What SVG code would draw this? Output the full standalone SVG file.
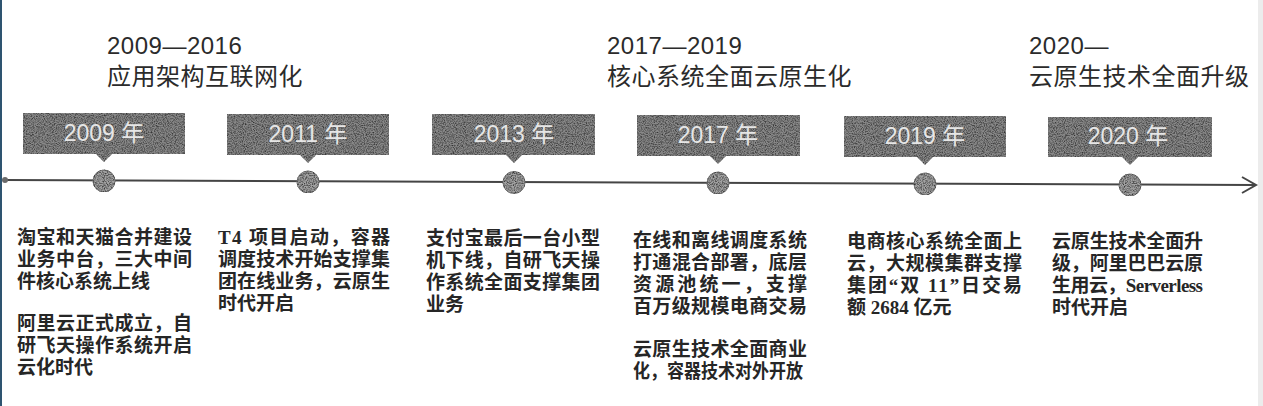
<svg xmlns="http://www.w3.org/2000/svg" width="1263" height="406" viewBox="0 0 1263 406">
<defs>
<filter id="grain" x="0" y="0" width="1" height="1" color-interpolation-filters="sRGB">
<feTurbulence type="fractalNoise" baseFrequency="0.9" numOctaves="2" seed="7" result="t"/>
<feColorMatrix in="t" type="matrix" values="0 0 0 0 0.2  0 0 0 0 0.2  0 0 0 0 0.2  2.2 0 0 0 -0.85" result="dots"/>
<feComposite in="dots" in2="SourceGraphic" operator="in" result="d"/>
<feMerge><feMergeNode in="SourceGraphic"/><feMergeNode in="d"/></feMerge>
</filter>
<style>
.hd{font-family:"Liberation Sans","Noto Sans CJK SC",sans-serif;font-size:24px;fill:#2b2b2b;letter-spacing:0.5px}
.box{fill:#888888}
.yr{font-family:"Liberation Sans","Noto Sans CJK SC",sans-serif;font-size:23px;fill:#e6e6e6;text-anchor:middle}
.dot{fill:#a2a2a2;stroke:#777777;stroke-width:1}
.tx{font-family:"Liberation Serif","Noto Sans CJK SC",serif;font-size:19px;fill:#262626;font-weight:700}
.ln{stroke:#454545;stroke-width:2;fill:none}
</style>
</defs>
<rect x="0" y="0" width="1263" height="406" fill="#ffffff"/>
<rect x="0" y="0" width="2" height="406" fill="#2e5470"/>
<rect x="1258" y="0" width="5" height="406" fill="#ececec"/>

<g id="headers">
<text class="hd" x="107" y="54">2009—2016</text>
<text class="hd" x="107" y="85">应用架构互联网化</text>
<text class="hd" x="607" y="54">2017—2019</text>
<text class="hd" x="607" y="85">核心系统全面云原生化</text>
<text class="hd" x="1029" y="54">2020—</text>
<text class="hd" x="1029" y="85">云原生技术全面升级</text>
</g>

<g id="connectors">
<line class="ln" x1="5" y1="180" x2="1255" y2="185"/>
<polyline class="ln" points="1242,177 1256,185 1242,193"/>
<circle cx="5" cy="180" r="3" fill="#6a6a6a"/>
</g>

<g id="n2009">
<g filter="url(#grain)"><path class="box" d="M23,113 H185 V154 H112 L104,162 L96,154 H23 Z"/><circle class="dot" cx="104" cy="181" r="11"/></g>
<text class="yr" x="104" y="141">2009 年</text>
<text class="tx"><tspan x="17" y="244" textLength="175" lengthAdjust="spacing">淘宝和天猫合并建设</tspan><tspan x="17" y="266" textLength="175" lengthAdjust="spacing">业务中台，三大中间</tspan><tspan x="17" y="288">件核心系统上线</tspan></text>
<text class="tx"><tspan x="17" y="330" textLength="175" lengthAdjust="spacing">阿里云正式成立，自</tspan><tspan x="17" y="352" textLength="175" lengthAdjust="spacing">研飞天操作系统开启</tspan><tspan x="17" y="374">云化时代</tspan></text>
</g>

<g id="n2011">
<g filter="url(#grain)"><path class="box" d="M227,114 H389 V155 H316 L308,163 L300,155 H227 Z"/><circle class="dot" cx="308" cy="182" r="11"/></g>
<text class="yr" x="308" y="142">2011 年</text>
<text class="tx"><tspan x="218" y="244" textLength="172" lengthAdjust="spacing">T4 项目启动，容器</tspan><tspan x="218" y="266" textLength="172" lengthAdjust="spacing">调度技术开始支撑集</tspan><tspan x="218" y="288" textLength="172" lengthAdjust="spacing">团在线业务，云原生</tspan><tspan x="218" y="310">时代开启</tspan></text>
</g>

<g id="n2013">
<g filter="url(#grain)"><path class="box" d="M432,114 H595 V155 H522 L514,163 L506,155 H432 Z"/><circle class="dot" cx="514" cy="182.5" r="11"/></g>
<text class="yr" x="514" y="142">2013 年</text>
<text class="tx"><tspan x="426" y="245" textLength="174" lengthAdjust="spacing">支付宝最后一台小型</tspan><tspan x="426" y="267" textLength="174" lengthAdjust="spacing">机下线，自研飞天操</tspan><tspan x="426" y="289" textLength="174" lengthAdjust="spacing">作系统全面支撑集团</tspan><tspan x="426" y="311">业务</tspan></text>
</g>

<g id="n2017">
<g filter="url(#grain)"><path class="box" d="M637,115 H800 V156 H726 L718,164 L710,156 H637 Z"/><circle class="dot" cx="718" cy="183" r="11"/></g>
<text class="yr" x="718" y="143">2017 年</text>
<text class="tx"><tspan x="633" y="247" textLength="174" lengthAdjust="spacing">在线和离线调度系统</tspan><tspan x="633" y="269" textLength="174" lengthAdjust="spacing">打通混合部署，底层</tspan><tspan x="633" y="291" textLength="174" lengthAdjust="spacing">资源池统一，支撑</tspan><tspan x="633" y="313" textLength="174" lengthAdjust="spacing">百万级规模电商交易</tspan></text>
<text class="tx"><tspan x="633" y="356" textLength="174" lengthAdjust="spacing">云原生技术全面商业</tspan><tspan x="633" y="378" textLength="170" lengthAdjust="spacingAndGlyphs">化，容器技术对外开放</tspan></text>
</g>

<g id="n2019">
<g filter="url(#grain)"><path class="box" d="M844,116 H1006 V157 H933 L925,165 L917,157 H844 Z"/><circle class="dot" cx="925" cy="184" r="11"/></g>
<text class="yr" x="925" y="144">2019 年</text>
<text class="tx"><tspan x="847" y="248" textLength="175" lengthAdjust="spacing">电商核心系统全面上</tspan><tspan x="847" y="270" textLength="175" lengthAdjust="spacing">云，大规模集群支撑</tspan><tspan x="847" y="292" textLength="175" lengthAdjust="spacing">集团“双 11”日交易</tspan><tspan x="847" y="314">额 2684 亿元</tspan></text>
</g>

<g id="n2020">
<g filter="url(#grain)"><path class="box" d="M1048,117 H1212 V157 H1138 L1130,165 L1122,157 H1048 Z"/><circle class="dot" cx="1130" cy="185" r="11"/></g>
<text class="yr" x="1128" y="144">2020 年</text>
<text class="tx"><tspan x="1052" y="248" textLength="151" lengthAdjust="spacing">云原生技术全面升</tspan><tspan x="1052" y="270" textLength="151" lengthAdjust="spacing">级，阿里巴巴云原</tspan><tspan x="1052" y="292" textLength="151" lengthAdjust="spacing">生用云，Serverless</tspan><tspan x="1052" y="314">时代开启</tspan></text>
</g>
</svg>
